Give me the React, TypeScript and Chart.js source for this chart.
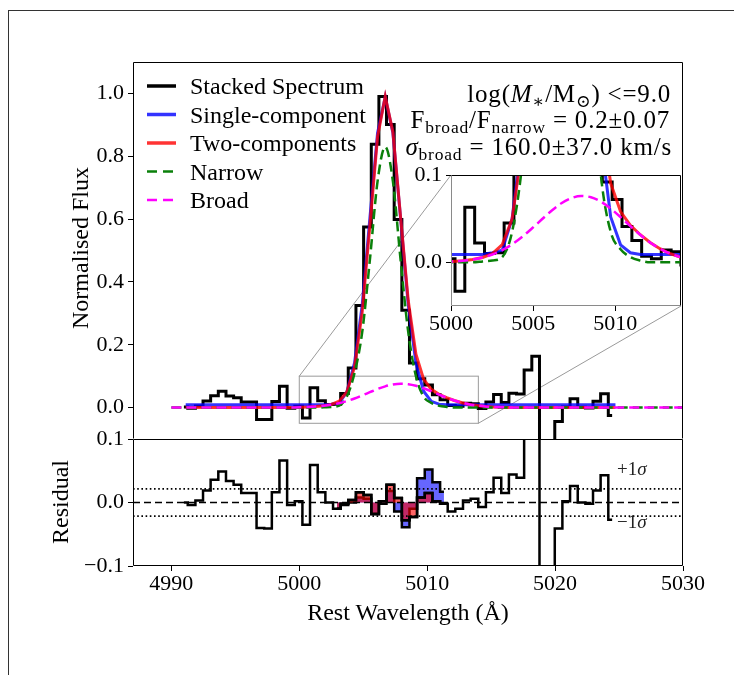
import React, { useEffect, useRef } from "react";
import { Chart, registerables } from "chart.js";

Chart.register(...registerables);

const SERIF = "'Liberation Serif', 'DejaVu Serif', serif";

// ---------------- data ----------------
const wavelengths = [
  4990.98, 4991.58, 4992.18, 4992.77, 4993.37, 4993.97, 4994.57, 4995.16, 4995.76, 4996.36,
  4996.96, 4997.56, 4998.15, 4998.75, 4999.35, 4999.95, 5000.54, 5001.14, 5001.74, 5002.34,
  5002.94, 5003.53, 5004.13, 5004.73, 5005.33, 5005.93, 5006.52, 5007.12, 5007.72, 5008.32,
  5008.91, 5009.51, 5010.11, 5010.71, 5011.31, 5011.9, 5012.5, 5013.1, 5013.7, 5014.29,
  5014.89, 5015.49, 5016.09, 5016.69, 5017.28, 5017.88, 5018.48, 5019.08, 5019.68, 5020.27,
  5020.87, 5021.47, 5022.07, 5022.67, 5023.26, 5023.86, 5024.46,
];

const stackedFlux = [
  0.002, -0.002, 0.005, 0.021, 0.038, 0.052, 0.037, 0.031, 0.018, 0.018,
  -0.038, -0.038, 0.019, 0.068, -0.002, 0.004, -0.033, 0.063, 0.022, 0.01,
  0.011, 0.045, 0.126, 0.325, 0.575, 0.838, 0.99, 0.901, 0.599, 0.31,
  0.142, 0.092, 0.072, 0.041, 0.025, 0.007, 0.004, 0.014, 0.012, -0.003,
  0.018, 0.042, 0.016, 0.046, 0.043, 0.12, 0.163, -0.25, -0.25, -0.044,
  0.002, 0.028, 0.001, -0.001, 0.02, 0.044, -0.025,
];

const residual = [
  0.0, -0.004, 0.003, 0.019, 0.036, 0.049, 0.034, 0.028, 0.015, 0.015,
  -0.04, -0.041, 0.016, 0.066, -0.004, 0.002, -0.035, 0.059, 0.016, 0.0,
  -0.01, -0.002, 0.004, 0.016, 0.012, -0.018, 0.002, 0.028, 0.007, -0.028,
  -0.023, 0.008, 0.015, 0.002, -0.002, -0.014, -0.01, 0.003, 0.006, -0.007,
  0.016, 0.039, 0.015, 0.044, 0.039, 0.12, 0.16, -0.25, -0.25, -0.041,
  0.002, 0.026, 0.0, -0.002, 0.019, 0.043, -0.027,
];

// residuals of the two fits over the line region (bins 20..34)
const residLineWave = wavelengths.slice(20, 35);
const residTwo = [
  -0.01, -0.002, 0.004, 0.016, 0.012, -0.018, 0.002, 0.028, 0.007, -0.028, -0.023, 0.008, 0.015, 0.002, -0.002,
];
const residSingle = [
  -0.01, -0.004, 0.0, 0.008, 0.006, -0.018, -0.002, 0.018, -0.014, -0.039, -0.01, 0.038, 0.052, 0.032, 0.017,
];

const modelWave = [
  4991.12, 4991.72, 4992.32, 4992.92, 4993.52, 4994.12, 4994.72, 4995.32, 4995.92, 4996.52,
  4997.12, 4997.72, 4998.32, 4998.92, 4999.52, 5000.12, 5000.72, 5001.32, 5001.92, 5002.52,
  5003.12, 5003.72, 5004.32, 5004.92, 5005.52, 5006.12, 5006.72, 5007.32, 5007.92, 5008.52,
  5009.12, 5009.72, 5010.32, 5010.92, 5011.52, 5012.12, 5012.72, 5013.32, 5013.92, 5014.52,
  5015.12, 5015.72, 5016.32, 5016.92, 5017.52, 5018.12, 5018.72, 5019.32, 5019.92, 5020.52,
  5021.12, 5021.72, 5022.32, 5022.92, 5023.52, 5024.12, 5024.72,
];

const singleModel = [
  0.009, 0.009, 0.009, 0.009, 0.009, 0.009, 0.009, 0.009, 0.009, 0.009,
  0.009, 0.009, 0.009, 0.009, 0.009, 0.009, 0.009, 0.009, 0.009, 0.011,
  0.014, 0.05, 0.142, 0.327, 0.603, 0.874, 0.989, 0.874, 0.603, 0.327,
  0.142, 0.052, 0.02, 0.011, 0.009, 0.009, 0.009, 0.009, 0.009, 0.009,
  0.009, 0.009, 0.009, 0.009, 0.009, 0.009, 0.009, 0.009, 0.009, 0.009,
  0.009, 0.009, 0.009, 0.009, 0.009, 0.009, 0.009,
];

const twoModel = [
  0, 0, 0, 0, 0, 0, 0, 0, 0, 0,
  0, 0, 0.0001, 0.0002, 0.0005, 0.0009, 0.0017, 0.0032, 0.0056, 0.01,
  0.0203, 0.0495, 0.1295, 0.3037, 0.579, 0.862, 0.99, 0.877, 0.606, 0.34,
  0.17, 0.0905, 0.0581, 0.0424, 0.0316, 0.0227, 0.0156, 0.0101, 0.0063, 0.0037,
  0.0021, 0.0011, 0.0005, 0.0003, 0.0001, 0, 0, 0, 0, 0,
  0, 0, 0, 0, 0, 0, 0,
];

const componentWave = [4990.0, ...modelWave, 5030.0];

const narrowFlux = [
  0,
  0, 0, 0, 0, 0, 0, 0, 0, 0, 0,
  0, 0, 0, 0, 0, 0, 0, 0, 0.001, 0.002,
  0.006, 0.035, 0.11, 0.24, 0.47, 0.72, 0.83, 0.72, 0.47, 0.24,
  0.1, 0.035, 0.015, 0.006, 0.002, 0, 0, 0, 0, 0,
  0, 0, 0, 0, 0, 0, 0, 0, 0, 0,
  0, 0, 0, 0, 0, 0, 0,
  0,
];

const broadFlux = [
  0,
  0, 0, 0, 0, 0, 0, 0, 0, 0, 0,
  0, 0, 0.0001, 0.0002, 0.0005, 0.0009, 0.0017, 0.0032, 0.0055, 0.009,
  0.014, 0.0206, 0.029, 0.0387, 0.049, 0.0591, 0.0676, 0.0735, 0.076, 0.0745,
  0.0695, 0.0616, 0.0518, 0.0414, 0.0315, 0.0227, 0.0156, 0.0101, 0.0063, 0.0037,
  0.0021, 0.0011, 0.0005, 0.0003, 0.0001, 0, 0, 0, 0, 0,
  0, 0, 0, 0, 0, 0, 0,
  0,
];

const xRange = [4987, 5030];
const xTicks = [4990, 5000, 5010, 5020, 5030];
const mainYRange = [-0.1, 1.1];
const mainYTicks = [0, 0.2, 0.4, 0.6, 0.8, 1.0];
const residYRange = [-0.1, 0.1];
const residYTicks = [-0.1, 0, 0.1];
const insetXRange = [5000, 5014];
const insetYRange = [-0.05, 0.1];
const insetXTicks = [5000, 5005, 5010];
const insetYTicks = [0, 0.1];
const sigmaLevel = 0.0215;

const legendLabels = ["Stacked Spectrum", "Single-component", "Two-components", "Narrow", "Broad"];

// ---------------- layout ----------------
const MAIN = { left: 0, top: 50, width: 700, height: 395, pad: { top: 12, right: 17, bottom: 6, left: 0 }, axisW: 133 };
const RES = { left: 0, top: 430, width: 734, height: 245, pad: { top: 9, right: 51, bottom: 0, left: 0 }, axisW: 133, axisH: 109 };
const INS = { left: 380, top: 165, width: 320, height: 180, pad: { top: 10, right: 19, bottom: 0, left: 0 }, axisW: 71, axisH: 39 };
const insetBox = {
  left: INS.left + INS.axisW,
  top: INS.top + INS.pad.top,
  right: INS.left + INS.width - INS.pad.right,
  bottom: INS.top + INS.height - INS.axisH,
};
const legendRowsY = [86, 114.5, 143, 171.5, 200];
const legendLineX = [147, 176];
const legendTextX = 190;

// ---------------- styles ----------------
const C_BLACK = "#000000";
const C_BLUE = "rgba(0,0,255,0.8)";
const C_RED = "rgba(255,0,0,0.8)";
const C_GREEN = "#0a800a";
const C_MAGENTA = "#ff00ff";
const DASH = [10, 5];

const pts = (xs: number[], ys: number[]) => xs.map((x, i) => ({ x, y: ys[i] }));
const tickFont = { family: SERIF, size: 22, lineHeight: 1 };
const fmt1 = (v: number) => (v < -1e-9 ? "\u2212" + Math.abs(v).toFixed(1) : Math.abs(v).toFixed(1));

function yScale(range: number[], ticks: number[], width: number, display = true) {
  return {
    type: "linear",
    min: range[0],
    max: range[1],
    display,
    afterBuildTicks: (s: any) => {
      s.ticks = ticks.map((v) => ({ value: v }));
    },
    afterFit: (s: any) => {
      s.width = width;
      s.paddingTop = 0;
      s.paddingBottom = 0;
      s.paddingLeft = 0;
      s.paddingRight = 0;
    },
    grid: { drawOnChartArea: false, drawTicks: true, tickLength: 5, color: "#000", lineWidth: 1 },
    border: { display: false },
    ticks: { font: tickFont, color: "#000", padding: 4, callback: (v: any) => fmt1(Number(v)) },
  };
}

function xScale(range: number[], ticks: number[], height: number, display = true, pad = 2) {
  return {
    type: "linear",
    min: range[0],
    max: range[1],
    display,
    afterBuildTicks: (s: any) => {
      s.ticks = ticks.map((v) => ({ value: v }));
    },
    afterFit: (s: any) => {
      s.height = height;
      s.paddingTop = 0;
      s.paddingBottom = 0;
      s.paddingLeft = 0;
      s.paddingRight = 0;
    },
    grid: { drawOnChartArea: false, drawTicks: true, tickLength: 5, color: "#000", lineWidth: 1 },
    border: { display: false },
    ticks: { font: tickFont, color: "#000", padding: pad, autoSkip: false, maxRotation: 0, callback: (v: any) => String(v) },
  };
}

const framePlugin = {
  id: "frame",
  beforeDraw(chart: any, _a: any, opts: any) {
    if (opts && opts.fill) {
      const { ctx, chartArea: a } = chart;
      ctx.save();
      ctx.fillStyle = "#ffffff";
      ctx.fillRect(a.left, a.top, a.right - a.left, a.bottom - a.top);
      ctx.restore();
    }
  },
  afterDraw(chart: any, _a: any, opts: any) {
    const { ctx, chartArea: a } = chart;
    const c = (opts && opts.colors) || ["#000", "#000", "#000", "#000"];
    ctx.save();
    ctx.lineWidth = 1;
    const seg = (x1: number, y1: number, x2: number, y2: number, col: string) => {
      if (!col) return;
      ctx.strokeStyle = col;
      ctx.beginPath();
      ctx.moveTo(x1, y1);
      ctx.lineTo(x2, y2);
      ctx.stroke();
    };
    const L = Math.round(a.left) + 0.5, R = Math.round(a.right) - 0.5;
    const T = Math.round(a.top) + 0.5, B = Math.round(a.bottom) - 0.5;
    seg(L, B, R, B, c[2]);
    seg(L, T, L, B, c[3]);
    seg(L, T, R, T, c[0]);
    seg(R, T, R, B, c[1]);
    ctx.restore();
  },
};

const mainDecor = {
  id: "mainDecor",
  beforeDatasetsDraw(chart: any) {
    const { ctx } = chart;
    const xs = chart.scales.x, ys = chart.scales.y;
    const x1 = xs.getPixelForValue(insetXRange[0]);
    const x2 = xs.getPixelForValue(insetXRange[1]);
    const y1 = ys.getPixelForValue(insetYRange[1]);
    const y2 = ys.getPixelForValue(insetYRange[0]);
    ctx.save();
    ctx.strokeStyle = "#9a9a9a";
    ctx.lineWidth = 1;
    ctx.strokeRect(x1, y1, x2 - x1, y2 - y1);
    ctx.beginPath();
    ctx.moveTo(x1, y1);
    ctx.lineTo(insetBox.left - MAIN.left, insetBox.top - MAIN.top);
    ctx.moveTo(x2, y2);
    ctx.lineTo(insetBox.right - MAIN.left, insetBox.bottom - MAIN.top);
    ctx.stroke();
    ctx.restore();
  },
  afterDraw(chart: any) {
    const { ctx } = chart;
    const styles = [
      { c: C_BLACK, w: 3.5, d: [] as number[] },
      { c: C_BLUE, w: 3.5, d: [] as number[] },
      { c: C_RED, w: 3.5, d: [] as number[] },
      { c: C_GREEN, w: 2.5, d: [10, 6] },
      { c: C_MAGENTA, w: 2.5, d: [10, 6] },
    ];
    ctx.save();
    styles.forEach((s, i) => {
      const y = legendRowsY[i] - MAIN.top;
      ctx.strokeStyle = s.c;
      ctx.lineWidth = s.w;
      ctx.setLineDash(s.d);
      ctx.beginPath();
      ctx.moveTo(legendLineX[0] - MAIN.left, y);
      ctx.lineTo(legendLineX[1] - MAIN.left, y);
      ctx.stroke();
    });
    ctx.restore();
  },
};

function modelDatasets() {
  return [
    {
      label: legendLabels[0],
      data: pts(wavelengths, stackedFlux),
      borderColor: C_BLACK,
      borderWidth: 3,
      stepped: "middle",
      pointRadius: 0,
      fill: false,
      order: 5,
    },
    {
      label: legendLabels[1],
      data: pts(modelWave, singleModel),
      borderColor: C_BLUE,
      borderWidth: 3,
      pointRadius: 0,
      fill: false,
      order: 4,
    },
    {
      label: legendLabels[2],
      data: pts(modelWave, twoModel),
      borderColor: C_RED,
      borderWidth: 3,
      pointRadius: 0,
      fill: false,
      order: 3,
    },
    {
      label: legendLabels[3],
      data: pts(componentWave, narrowFlux),
      borderColor: C_GREEN,
      borderWidth: 2.5,
      borderDash: DASH,
      cubicInterpolationMode: "monotone",
      pointRadius: 0,
      fill: false,
      order: 2,
    },
    {
      label: legendLabels[4],
      data: pts(componentWave, broadFlux),
      borderColor: C_MAGENTA,
      borderWidth: 2.5,
      borderDash: DASH,
      cubicInterpolationMode: "monotone",
      pointRadius: 0,
      fill: false,
      order: 1,
    },
  ];
}

const baseOptions = {
  animation: false,
  responsive: false,
  devicePixelRatio: 1,
  events: [],
};

const Txt = ({ x, y, size = 24, anchor = "left", rotate = false, color = "#000", spacing = 0, children }: any) => {
  let transform = "translateY(-50%)";
  if (anchor === "right") transform = "translate(-100%,-50%)";
  if (anchor === "center") transform = "translate(-50%,-50%)";
  if (rotate) transform = "translate(-50%,-50%) rotate(-90deg)";
  return (
    <div
      style={{
        position: "absolute",
        left: x,
        top: y,
        transform,
        fontFamily: SERIF,
        fontSize: size,
        lineHeight: 1,
        whiteSpace: "nowrap",
        letterSpacing: spacing,
        color,
      }}
    >
      {children}
    </div>
  );
};

const Sub = ({ children }: any) => (
  <span style={{ fontSize: "0.7em", position: "relative", top: "0.3em" }}>{children}</span>
);

export default function App() {
  const mainRef = useRef<HTMLCanvasElement>(null);
  const resRef = useRef<HTMLCanvasElement>(null);
  const insRef = useRef<HTMLCanvasElement>(null);

  useEffect(() => {
    const charts: Chart[] = [];

    charts.push(
      new Chart(mainRef.current as HTMLCanvasElement, {
        type: "line",
        data: { datasets: modelDatasets() as any },
        options: {
          ...baseOptions,
          layout: { padding: MAIN.pad },
          plugins: {
            legend: { display: false },
            tooltip: { enabled: false },
            frame: { colors: ["#000", "#000", "", "#000"] },
          } as any,
          scales: {
            x: xScale(xRange, xTicks, 0, false) as any,
            y: yScale(mainYRange, mainYTicks, MAIN.axisW) as any,
          },
        } as any,
        plugins: [framePlugin, mainDecor],
      })
    );

    const flat = (v: number) => pts(xRange, [v, v]);
    charts.push(
      new Chart(resRef.current as HTMLCanvasElement, {
        type: "line",
        data: {
          datasets: [
            {
              data: pts(residLineWave, residSingle),
              borderColor: "#000",
              borderWidth: 2.5,
              backgroundColor: "rgba(0,0,255,0.6)",
              fill: "origin",
              stepped: "middle",
              pointRadius: 0,
              order: 7,
            },
            {
              data: pts(residLineWave, residTwo),
              borderColor: "#000",
              borderWidth: 2.5,
              backgroundColor: "rgba(255,0,0,0.6)",
              fill: "origin",
              stepped: "middle",
              pointRadius: 0,
              order: 6,
            },
            {
              data: pts(wavelengths, residual),
              borderColor: "#000",
              borderWidth: 2.5,
              stepped: "middle",
              pointRadius: 0,
              fill: false,
              order: 5,
            },
            {
              data: flat(0),
              borderColor: "#000",
              borderWidth: 1.6,
              borderDash: [7, 4],
              pointRadius: 0,
              fill: false,
              order: 3,
            },
            {
              data: flat(sigmaLevel),
              borderColor: "#000",
              borderWidth: 1.6,
              borderDash: [1.6, 2.6],
              pointRadius: 0,
              fill: false,
              order: 2,
            },
            {
              data: flat(-sigmaLevel),
              borderColor: "#000",
              borderWidth: 1.6,
              borderDash: [1.6, 2.6],
              pointRadius: 0,
              fill: false,
              order: 1,
            },
          ] as any,
        },
        options: {
          ...baseOptions,
          layout: { padding: RES.pad },
          plugins: { legend: { display: false }, tooltip: { enabled: false }, filler: { propagate: false }, frame: {} } as any,
          scales: {
            x: xScale(xRange, xTicks, RES.axisH, true, 2) as any,
            y: yScale(residYRange, residYTicks, RES.axisW) as any,
          },
        } as any,
        plugins: [framePlugin],
      })
    );

    charts.push(
      new Chart(insRef.current as HTMLCanvasElement, {
        type: "line",
        data: { datasets: modelDatasets() as any },
        options: {
          ...baseOptions,
          layout: { padding: INS.pad },
          plugins: {
            legend: { display: false },
            tooltip: { enabled: false },
            frame: { fill: true, colors: ["#000", "#000", "#8a8a8a", "#8a8a8a"] },
          } as any,
          scales: {
            x: xScale(insetXRange, insetXTicks, INS.axisH, true, 2) as any,
            y: yScale(insetYRange, insetYTicks, INS.axisW) as any,
          },
        } as any,
        plugins: [framePlugin],
      })
    );

    return () => charts.forEach((c) => c.destroy());
  }, []);

  const cv = (L: any) => ({ position: "absolute" as const, left: L.left, top: L.top, width: L.width, height: L.height });

  return (
    <div style={{ position: "absolute", left: 0, top: 0, width: 734, height: 675, background: "#fff", overflow: "hidden" }}>
      <div
        style={{
          position: "absolute",
          left: 8,
          top: 10,
          width: 740,
          height: 700,
          borderTop: "1px solid #333",
          borderLeft: "1px solid #333",
        }}
      />
      <canvas ref={mainRef} width={MAIN.width} height={MAIN.height} style={cv(MAIN)} />
      <canvas ref={resRef} width={RES.width} height={RES.height} style={cv(RES)} />
      <canvas ref={insRef} width={INS.width} height={INS.height} style={cv(INS)} />

      {legendLabels.map((l, i) => (
        <Txt key={l} x={legendTextX} y={legendRowsY[i]}>
          {l}
        </Txt>
      ))}

      <Txt x={671} y={93} size={25} spacing={0.8} anchor="right">
        log(<i>M</i>
        <Sub>∗</Sub>/M<Sub>⊙</Sub>) &lt;=9.0
      </Txt>
      <Txt x={670} y={119} size={25} spacing={0.8} anchor="right">
        F<Sub>broad</Sub>/F<Sub>narrow</Sub> = 0.2±0.07
      </Txt>
      <Txt x={672} y={146} size={25} spacing={0.8} anchor="right">
        <i>σ</i>
        <Sub>broad</Sub> = 160.0±37.0 km/s
      </Txt>

      <Txt x={617} y={468} size={19} color="#222">
        +1<i>σ</i>
      </Txt>
      <Txt x={617} y={521} size={19} color="#222">
        −1<i>σ</i>
      </Txt>

      <Txt x={80} y={248} rotate>
        Normalised Flux
      </Txt>
      <Txt x={60} y={502} rotate>
        Residual
      </Txt>
      <Txt x={408} y={612} anchor="center">
        Rest Wavelength (Å)
      </Txt>
    </div>
  );
}
